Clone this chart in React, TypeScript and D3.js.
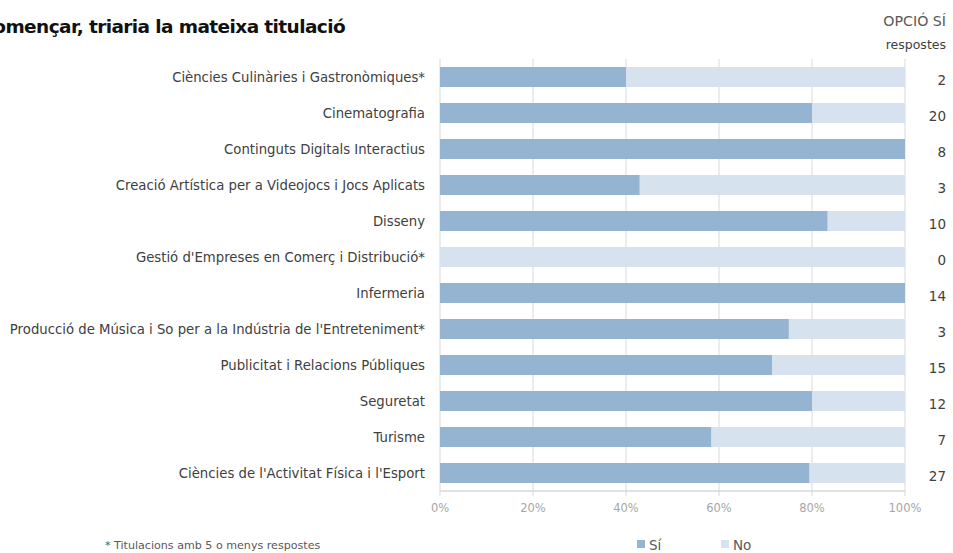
import React from "react";
import * as d3 from "d3";

const categories = [
  "Ciències Culinàries i Gastronòmiques*",
  "Cinematografia",
  "Continguts Digitals Interactius",
  "Creació Artística per a Videojocs i Jocs Aplicats",
  "Disseny",
  "Gestió d'Empreses en Comerç i Distribució*",
  "Infermeria",
  "Producció de Música i So per a la Indústria de l'Entreteniment*",
  "Publicitat i Relacions Públiques",
  "Seguretat",
  "Turisme",
  "Ciències de l'Activitat Física i l'Esport",
];
const siShare = [0.4, 0.8, 1.0, 0.429, 0.833, 0.0, 1.0, 0.75, 0.714, 0.8, 0.583, 0.794];
const siCount = [2, 20, 8, 3, 10, 0, 14, 3, 15, 12, 7, 27];
const xTicks = [0, 0.2, 0.4, 0.6, 0.8, 1.0];

const W = 953;
const H = 553;
const FONT = "'DejaVu Sans', sans-serif";
const SI_COLOR = "#95b4d1";
const NO_COLOR = "#d6e2ed";

export default function App() {
  const x = d3.scaleLinear().domain([0, 1]).range([440, 905]);
  const y = d3
    .scaleBand<string>()
    .domain(categories)
    .range([59, 491])
    .paddingInner(16 / 36)
    .paddingOuter(8 / 36);
  const bw = y.bandwidth();

  return (
    <svg
      width={W}
      height={H}
      style={{ position: "absolute", left: 0, top: 0, background: "#fff" }}
      fontFamily={FONT}
    >
      <text
        x={345}
        y={33}
        textAnchor="end"
        fontSize={18.5}
        fontWeight={700}
        fill="#111"
        fontFamily="'DejaVu Sans', sans-serif"
        letterSpacing={-0.6}
      >
        Si hagués de tornar a començar, triaria la mateixa titulació
      </text>
      <text x={946} y={26} textAnchor="end" fontSize={14.2} fill="#595959">
        OPCIÓ SÍ
      </text>
      <text x={946} y={49} textAnchor="end" fontSize={12.5} fill="#404040">
        respostes
      </text>

      {xTicks.map((t) => (
        <line
          key={"g" + t}
          x1={x(t)}
          x2={x(t)}
          y1={59}
          y2={496}
          stroke="#d9d9d9"
          strokeWidth={1}
        />
      ))}
      <line x1={440} x2={905} y1={491} y2={491} stroke="#d9d9d9" strokeWidth={1.5} />

      {categories.map((c, i) => {
        const yy = y(c)!;
        return (
          <g key={c}>
            <rect x={x(0)} y={yy} width={x(1) - x(0)} height={bw} fill={NO_COLOR} />
            <rect x={x(0)} y={yy} width={x(siShare[i]) - x(0)} height={bw} fill={SI_COLOR} />
            <text
              x={425}
              y={yy + bw / 2 + 4.5}
              textAnchor="end"
              fontSize={13.25}
              fill="#404040"
            >
              {c}
            </text>
            <text
              x={946}
              y={yy + bw / 2 + 8}
              textAnchor="end"
              fontSize={13.5}
              fill="#404040"
            >
              {siCount[i]}
            </text>
          </g>
        );
      })}

      {xTicks.map((t) => (
        <text
          key={"t" + t}
          x={x(t)}
          y={512}
          textAnchor="middle"
          fontSize={11.5}
          fill="#a6a6a6"
        >
          {d3.format(".0%")(t)}
        </text>
      ))}

      <text x={105} y={549} fontSize={11.1} fill="#595959">
        * Titulacions amb 5 o menys respostes
      </text>

      <rect x={637} y={540} width={8} height={8} fill={SI_COLOR} />
      <text x={649} y={550} fontSize={13.5} fill="#595959">
        Sí
      </text>
      <rect x={721} y={540} width={8} height={8} fill={NO_COLOR} />
      <text x={733} y={550} fontSize={13.5} fill="#595959">
        No
      </text>
    </svg>
  );
}
